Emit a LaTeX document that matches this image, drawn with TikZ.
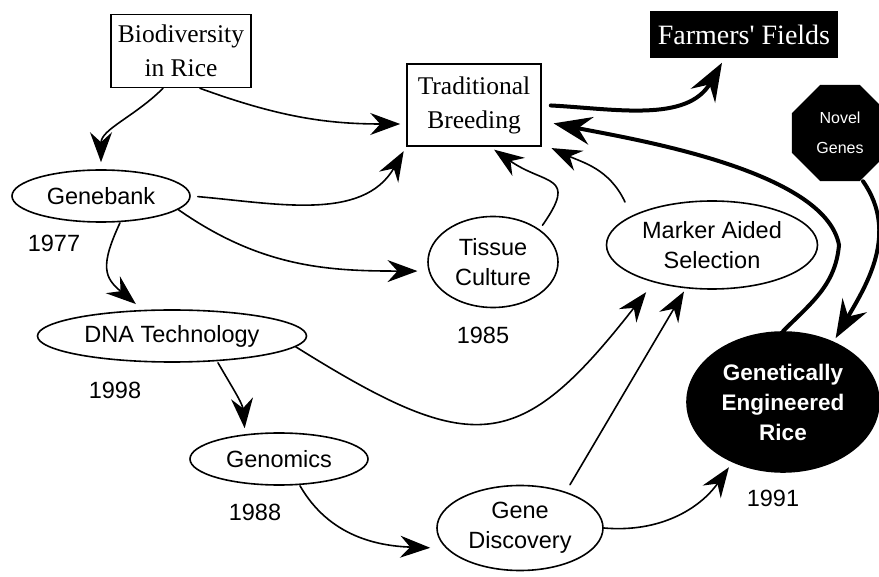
\documentclass[tikz,border=0pt]{standalone}
\usepackage{fontspec}
\setmainfont{Liberation Serif}[Ligatures=TeXOff]
\setsansfont{Liberation Sans}
\usepackage{tikz}
\usetikzlibrary{arrows.meta}
\usetikzlibrary{shapes.geometric}

\tikzset{
  box/.style={draw, rectangle, line width=1.6pt, inner sep=0pt, align=center, font=\fontsize{25.5}{34}\selectfont},
  topic/.style={draw, ellipse, line width=1.6pt, inner sep=0pt, align=center, font=\sffamily\fontsize{23.5}{30}\selectfont},
  year/.style={font=\sffamily\fontsize{23.5}{26}\selectfont},
  link/.style={line width=1.6pt, line cap=round, -{Stealth[length=30pt,width=22pt,inset=10pt]}},
  biglink/.style={line width=4pt, line cap=round, -{Stealth[length=38pt,width=28pt,inset=13pt]}}
}

\begin{document}
\begin{tikzpicture}[x=1pt, y=-1pt]
\useasboundingbox (0,0) rectangle (879,577);

\node[box, minimum width=140pt, minimum height=73pt] (Biodiversity) at (181,51) {Biodiversity\\in Rice};
\node[box, minimum width=134pt, minimum height=82pt] (Breeding) at (474,105) {Traditional\\Breeding};
\node[box, draw=none, fill=black, text=white, minimum width=188pt, minimum height=47pt, font=\fontsize{28}{30}\selectfont] (Farmers) at (744,35) {Farmers' Fields};
\node[regular polygon, regular polygon sides=8, fill=black, text=white, minimum size=104pt, inner sep=0pt, align=center, font=\sffamily\fontsize{16}{30}\selectfont] (NovelGenes) at (840,133) {Novel\\Genes};

\node[topic, minimum width=178pt, minimum height=52pt] (Genebank) at (101,196) {Genebank};
\node[topic, minimum width=269pt, minimum height=52pt] (DNATech) at (172,336) {DNA Technology};
\node[topic, minimum width=178pt, minimum height=52pt] (Genomics) at (279,459) {Genomics};
\node[topic, minimum width=130pt, minimum height=91pt] (TissueCulture) at (493,262) {Tissue\\Culture};
\node[topic, minimum width=211pt, minimum height=88pt] (Marker) at (712,245) {Marker Aided\\Selection};
\node[topic, minimum width=166pt, minimum height=85pt] (GeneDiscovery) at (520,528) {Gene\\Discovery};
\node[topic, fill=black, text=white, font=\sffamily\bfseries\fontsize{22.5}{30}\selectfont, minimum width=192pt, minimum height=140pt] (GERice) at (783,402) {Genetically\\Engineered\\Rice};

\node[year] (Year1977) at (54,243) {1977};
\node[year] (Year1998) at (115,390) {1998};
\node[year] (Year1988) at (255,512) {1988};
\node[year] (Year1985) at (483,335) {1985};
\node[year] (Year1991) at (773,498) {1991};

\draw[link, shorten >=7pt] ([xshift=-18pt]Biodiversity.south) to[out=-135,in=90] (Genebank.north);
\draw[link, shorten >=6pt] ([xshift=19pt]Biodiversity.south) to[out=-20,in=180] ([yshift=-19pt]Breeding.west);
\draw[link, shorten <=7pt, shorten >=5pt] (Genebank.east) to[out=-5,in=240] (Breeding.south west);
\draw[link, shorten >=11pt] (Genebank.-10) to[out=-35,in=180] (TissueCulture.188);
\draw[link, shorten >=8pt] ([xshift=19pt]Genebank.south) to[out=-115,in=140,looseness=1.4] ([xshift=-30pt]DNATech.north);
\draw[link, shorten >=4pt] ([xshift=46pt]DNATech.south) to[out=-60,in=95] ([xshift=-34pt]Genomics.north);
\draw[link, shorten >=6pt] ([xshift=21pt]Genomics.south) to[out=-60,in=178] ([yshift=-20pt]GeneDiscovery.west);
\draw[link, shorten <=5pt, shorten >=5pt] (TissueCulture.35) to[out=55,in=-35,looseness=1.8] ([xshift=16pt]Breeding.south);
\draw[link, shorten >=3pt] ([shift={(-87,-43)}]Marker.center) to[out=115,in=-25] ([xshift=7pt]Breeding.south east);
\draw[link, shorten >=3pt] (DNATech.-5) to[out=-32,in=232,looseness=1.5] ([xshift=-64pt]Marker.south);
\draw[link, shorten >=2pt] ([xshift=50pt]GeneDiscovery.north) -- ([xshift=-27pt]Marker.south);
\draw[link, shorten >=6pt] (GeneDiscovery.east) to[out=-5,in=235] (GERice.230);

\coordinate (GEturn) at (839,245);
\draw[biglink, shorten <=9pt, shorten >=4pt] (Breeding.east) to[out=-3,in=240] ([xshift=-20pt]Farmers.south);
\draw[biglink, shorten >=12pt] (GERice.north) to[out=45,in=-95] (GEturn) .. controls +(-14,-75) and +(90,18) .. ([yshift=-16pt]Breeding.east);
\draw[biglink, shorten >=4pt] ([xshift=23pt]NovelGenes.south) to[out=-55,in=60] (GERice.50);
\end{tikzpicture}
\end{document}
